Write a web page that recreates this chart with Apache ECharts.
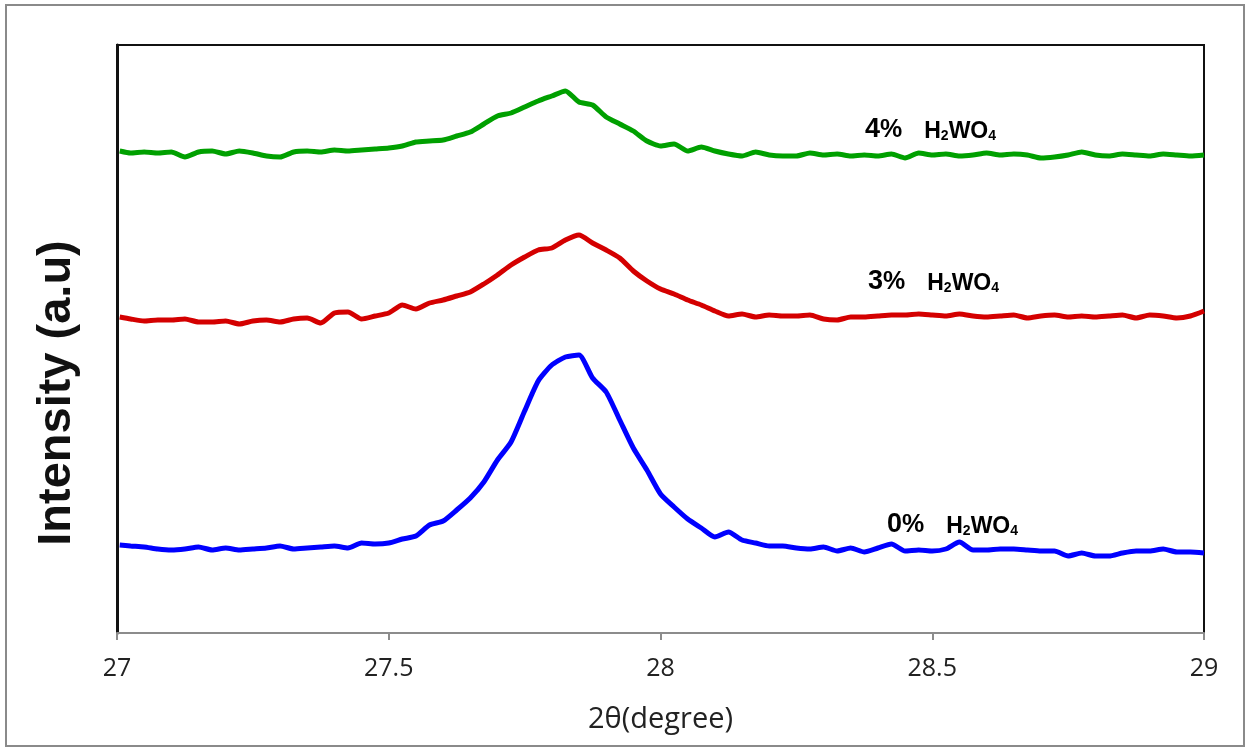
<!DOCTYPE html>
<html>
<head>
<meta charset="utf-8">
<script src="https://cdn.jsdelivr.net/npm/echarts@6/dist/echarts.min.js"></script>
<style>
  html, body { margin: 0; padding: 0; background: #fff; }
</style>
</head>
<body>
<div id="main" style="width:1252px;height:748px;"></div>
<script>
// 2θ 横坐标（度）
var theta = [
  27.005, 27.025, 27.05, 27.075, 27.1, 27.125, 27.15, 27.175, 27.2, 27.225,
  27.25, 27.275, 27.3, 27.325, 27.35, 27.375, 27.4, 27.425, 27.45, 27.475,
  27.5, 27.525, 27.55, 27.575, 27.6, 27.625, 27.65, 27.675, 27.7, 27.725,
  27.75, 27.775, 27.8, 27.825, 27.85, 27.875, 27.9, 27.925, 27.95, 27.975,
  28.0, 28.025, 28.05, 28.075, 28.1, 28.125, 28.15, 28.175, 28.2, 28.225,
  28.25, 28.275, 28.3, 28.325, 28.35, 28.375, 28.4, 28.425, 28.45, 28.475,
  28.5, 28.525, 28.55, 28.575, 28.6, 28.625, 28.65, 28.675, 28.7, 28.725,
  28.75, 28.775, 28.8, 28.825, 28.85, 28.875, 28.9, 28.925, 28.95, 28.975,
  29.0
];

// 强度 (a.u)，三条曲线已按图中位置上下错开
var int4 = [
  482, 480, 481, 480, 481, 476, 481, 482, 479, 482,
  480, 477, 476, 481, 482, 481, 483, 482, 483, 484,
  485, 487, 491, 492, 493, 497, 501, 509, 517, 520,
  526, 532, 537, 542, 531, 528, 516, 509, 502, 492,
  487, 489, 482, 486, 482, 479, 477, 481, 478, 477,
  477, 480, 478, 479, 477, 478, 477, 479, 475, 480,
  478, 479, 477, 478, 480, 478, 479, 478, 475, 476,
  478, 481, 478, 477, 479, 478, 477, 479, 478, 477,
  478
];
var int3 = [
  316, 314, 312, 313, 313, 314, 311, 311, 312, 309,
  312, 313, 311, 314, 315, 310, 320, 321, 314, 317,
  320, 328, 324, 330, 333, 337, 341, 349, 358, 368,
  376, 383, 385, 393, 398, 390, 383, 375, 362, 352,
  344, 339, 333, 328, 322, 317, 319, 316, 318, 317,
  317, 318, 314, 313, 316, 316, 317, 318, 318, 319,
  318, 317, 319, 317, 316, 317, 318, 315, 317, 318,
  316, 317, 316, 317, 318, 315, 318, 317, 315, 317,
  322
];
var int0 = [
  88, 87, 86, 84, 83, 84, 86, 83, 85, 83,
  84, 85, 87, 84, 85, 86, 87, 85, 90, 89,
  90, 94, 97, 108, 112, 123, 135, 151, 173, 191,
  222, 252, 268, 276, 278, 255, 241, 213, 185, 163,
  139, 126, 114, 105, 96, 101, 93, 90, 87, 87,
  85, 84, 86, 82, 85, 81, 85, 89, 82, 83,
  82, 84, 91, 83, 83, 84, 84, 83, 82, 82,
  77, 80, 77, 77, 80, 82, 82, 84, 81, 81,
  80
];

var seriesNames = ['4% H2WO4', '3% H2WO4', '0% H2WO4'];
var seriesColors = ['#00a000', '#d40000', '#0000ff'];
var seriesValues = [int4, int3, int0];

function pairs(ys) {
  return theta.map(function (x, i) { return [x, ys[i]]; });
}

var myChart = echarts.init(document.getElementById('main'));

var labelRich = {
  d: { fontFamily: 'Liberation Sans', fontWeight: 'bold', fontSize: 27, color: '#1a1a1a', lineHeight: 30, verticalAlign: 'bottom' },
  p: { fontFamily: 'Liberation Sans', fontWeight: 'bold', fontSize: 25, color: '#1a1a1a', lineHeight: 30, verticalAlign: 'bottom' },
  h: { fontFamily: 'Liberation Sans', fontWeight: 'bold', fontSize: 23, color: '#1a1a1a', lineHeight: 30, verticalAlign: 'bottom', padding: [0, 0, 0, 22] },
  m: { fontFamily: 'Liberation Sans', fontWeight: 'bold', fontSize: 23, color: '#1a1a1a', lineHeight: 30, verticalAlign: 'bottom' },
  s: { fontFamily: 'Liberation Sans', fontWeight: 'bold', fontSize: 14, color: '#1a1a1a', lineHeight: 18, verticalAlign: 'bottom' }
};

function sampleLabel(num, x, y) {
  return {
    type: 'text',
    z: 100,
    style: {
      x: x, y: y,
      text: '{d|' + num + '}{p|%}{h|H}{s|2}{m|WO}{s|4}',
      rich: labelRich,
      verticalAlign: 'middle'
    }
  };
}

var option = {
  animation: false,
  backgroundColor: '#fff',
  grid: {
    left: 117, right: 48, top: 45, bottom: 115,
    show: true,
    borderColor: '#111',
    borderWidth: 2
  },
  xAxis: {
    type: 'value',
    min: 27,
    max: 29,
    interval: 0.5,
    name: '2θ(degree)',
    nameLocation: 'middle',
    nameGap: 72,
    nameTextStyle: { fontFamily: 'Open Sans', fontSize: 29, color: '#222' },
    axisLine: { show: true, lineStyle: { color: '#8c8c8c', width: 2 } },
    axisTick: { show: true, inside: false, length: 7, lineStyle: { color: '#8c8c8c', width: 2 } },
    axisLabel: { fontFamily: 'Open Sans', fontSize: 25, color: '#222', margin: 23 },
    splitLine: { show: false }
  },
  yAxis: {
    type: 'value',
    min: 0,
    max: 588,
    axisLine: { show: true, lineStyle: { color: '#111', width: 3 } },
    axisTick: { show: false },
    axisLabel: { show: false },
    splitLine: { show: false }
  },
  series: seriesValues.map(function (vals, i) {
    return {
      name: seriesNames[i],
      type: 'line',
      data: pairs(vals),
      showSymbol: false,
      symbol: 'none',
      smooth: 0.2,
      lineStyle: { color: seriesColors[i], width: 5 },
      z: 3 + i
    };
  }),
  graphic: [
    {
      type: 'rect',
      z: -1,
      shape: { x: 6, y: 5, width: 1238, height: 741 },
      style: { fill: 'none', stroke: '#8a8a8a', lineWidth: 2 }
    },
    {
      type: 'text',
      z: 100,
      x: 57,
      y: 393,
      rotation: Math.PI / 2,
      style: {
        text: 'Intensity (a.u)',
        fontFamily: 'Liberation Sans',
        fontWeight: 'bold',
        fontSize: 47,
        fill: '#111',
        align: 'center',
        verticalAlign: 'middle'
      }
    },
    sampleLabel('4', 865, 128),
    sampleLabel('3', 868, 280),
    sampleLabel('0', 887, 523)
  ]
};

myChart.setOption(option);
</script>
</body>
</html>
